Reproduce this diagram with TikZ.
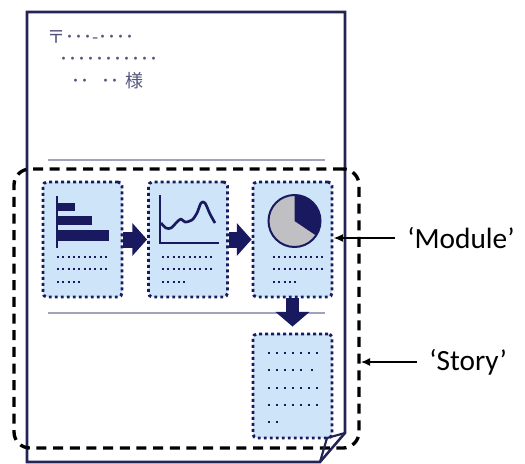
\documentclass[tikz,border=0pt]{standalone}
\usepackage{fontspec}
\setmainfont{Carlito}
\newfontfamily\jpfont{Noto Sans CJK JP}
\usepackage{xcolor}
\usetikzlibrary{arrows.meta}
\definecolor{navy}{RGB}{25,25,95}
\definecolor{pageline}{RGB}{35,35,85}
\definecolor{rulegray}{RGB}{160,163,185}
\definecolor{modfill}{RGB}{205,228,249}
\definecolor{piegray}{RGB}{192,192,196}
\definecolor{addrgray}{RGB}{85,85,125}

\begin{document}
\begin{tikzpicture}[x=0.75pt,y=-0.75pt,
  module/.style={draw=navy, fill=modfill, line width=2.2pt, dash pattern=on 2.2pt off 2.3pt,
    rounded corners=3pt, minimum width=59.25pt, minimum height=86.25pt, inner sep=0pt},
  storybox/.style={draw=black, line width=2.5pt, dash pattern=on 7.5pt off 5pt,
    rounded corners=12pt, minimum width=258.75pt, minimum height=209.25pt, inner sep=0pt},
  blockarrow/.style={draw=navy, line width=12pt, -{Triangle[length=11pt,width=24pt]}},
  txtdots/.style={navy, line width=1.5pt, dash pattern=on 1.5pt off 2.5pt},
  bigdots/.style={navy, line width=1.8pt, dash pattern=on 1.8pt off 4.2pt},
  addr/.style={addrgray, anchor=base west, inner sep=0pt, font=\jpfont\fontsize{13.5}{16}\selectfont},
  lbl/.style={anchor=west, inner xsep=9pt, inner ysep=0pt, font=\fontsize{22}{26}\selectfont},
  pointer/.style={draw=black, line width=1.5pt, -{Latex[length=7pt,width=6pt]}}]
  \useasboundingbox (0,0) rectangle (525,464);
  % letter page
  \draw[pageline, line width=1.9pt, line join=miter] (27,12) -- (345,12) -- (345,433) -- (320,462) -- (27,462) -- cycle;
  \node[addr] (zip) at (47,43) {〒･･･-････};
  \node[addr] (street) at (59,65) {･･･････････};
  \node[addr] (name) at (71,87) {･･\hspace{9pt}･･\hspace{4.5pt}様};
  \draw[rulegray, line width=1.5pt] (48,160) -- (325,160);
  \draw[rulegray, line width=1.1pt] (48,313) -- (325,313);
  % story and modules
  \node[storybox] (story) at (186.5,308.5) {};
  \node[module] (bars) at (82.5,239.5) {};
  \node[module] (trend) at (188,239.5) {};
  \node[module] (pie) at (292.5,239.5) {};
  \node[module, minimum height=78pt] (notes) at (292.5,386) {};
  \draw[blockarrow] (bars.east) -- (trend.west);
  \draw[blockarrow] (trend.east) -- (pie.west);
  \draw[blockarrow, line width=10pt, -{Triangle[length=11pt,width=25pt]}, shorten >=4.5pt] (pie.south) -- (notes.north);
  % bar chart
  \draw[navy, line width=1.5pt] (57,196) -- (57,248);
  \fill[navy] (57,203) rectangle (75,211);
  \fill[navy] (57,216) rectangle (92,225);
  \fill[navy] (57,230) rectangle (109,241);
  % line chart
  \draw[navy, line width=1.5pt] (160,195) -- (160,243) -- (219,243);
  \draw[navy, line width=2pt, line join=round] plot[smooth] coordinates {(161,223) (166,228) (171,228) (177,222) (181,219) (185,222) (192,220) (197,213) (201,203) (205,203) (210,214) (215,223)};
  % pie chart
  \fill[piegray] (294.5,221) circle (26);
  \fill[navy] (294.5,221) -- (294.5,195) arc (-90:34:26) -- cycle;
  \draw[navy, line width=1.5pt] (294.5,221) circle (26);
  % text placeholders
  \foreach \x in {57,162,273} {
    \draw[txtdots] (\x,257) -- ++(52,0);
    \draw[txtdots] (\x,269) -- ++(52,0);
    \draw[txtdots] (\x,282) -- ++(24,0);
  }
  \draw[bigdots] (268,353) -- (318,353);
  \draw[bigdots] (268,370) -- (302,370);
  \draw[bigdots] (311,370) -- (314,370);
  \draw[bigdots] (268,388) -- (318,388);
  \draw[bigdots] (268,405) -- (318,405);
  \draw[bigdots] (268,422) -- (279,422);
  % folded corner
  \draw[pageline, line width=1.6pt, line join=round] (345,433) -- (327,438) -- (320,462);
  % labels
  \node[lbl] (modlbl) at (395,238) {‘Module’};
  \node[lbl] (storylbl) at (417,362) {‘Story’};
  \draw[pointer] (modlbl.west) -- (pie.east |- modlbl.west);
  \draw[pointer] (storylbl.west) -- (story.east |- storylbl.west);
\end{tikzpicture}
\end{document}
